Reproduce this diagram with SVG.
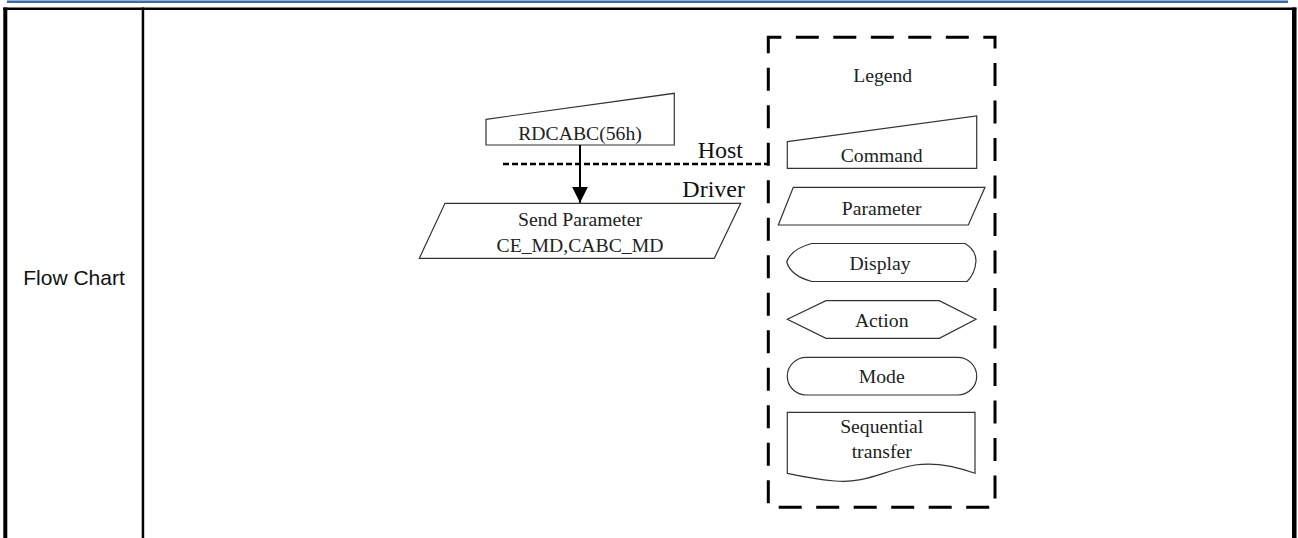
<svg xmlns="http://www.w3.org/2000/svg" width="1298" height="538" viewBox="0 0 1298 538">
<style>
.tbl{fill:#000}
.shape{fill:#fff;stroke:#333;stroke-width:1.2}
.t{font-family:"Liberation Serif","Times New Roman",serif;font-size:19.7px;fill:#222;text-anchor:middle}
.big{font-family:"Liberation Serif","Times New Roman",serif;font-size:24px;fill:#111;text-anchor:end}
.lab{font-family:"Liberation Sans",Arial,sans-serif;font-size:21px;fill:#111;text-anchor:middle}
</style>
<defs>
<marker id="ah" markerUnits="userSpaceOnUse" markerWidth="16" markerHeight="16" refX="16" refY="8" orient="auto">
<path d="M0,0 L16,8 L0,16 Z" fill="#000"/>
</marker>
</defs>
<rect width="1298" height="538" fill="#fff"/>
<g id="header">
<rect x="7" y="0" width="1281" height="1" fill="#8fb0d8"/>
<rect x="7" y="1" width="1281" height="2" fill="#41699b"/>
</g>
<g id="table">
<rect class="tbl" x="3.3" y="7.5" width="1293" height="2.5"/>
<rect class="tbl" x="3.3" y="7.5" width="4" height="531"/>
<rect class="tbl" x="141.7" y="7.5" width="2.5" height="531"/>
<rect class="tbl" x="1292" y="7.5" width="4.5" height="531"/>
<text class="lab" x="74" y="285">Flow Chart</text>
</g>
<g id="legend-box">
<rect x="768.3" y="37.3" width="226.7" height="470" fill="none" stroke="#000" stroke-width="3" stroke-dasharray="23,14.5" stroke-dashoffset="10"/>
<text class="t" x="882.7" y="81.7">Legend</text>
</g>
<g id="node-rdcabc">
<path class="shape" d="M486,119.3 L674.3,93.3 L674.3,145 L486,145 Z"/>
<text class="t" x="580" y="140">RDCABC(56h)</text>
</g>
<g id="node-send">
<path class="shape" d="M445,203.3 L740.7,203.3 L714.3,258.3 L419.3,258.3 Z"/>
<text class="t" x="580" y="226">Send Parameter</text>
<text class="t" x="580" y="251.7">CE_MD,CABC_MD</text>
</g>
<g id="host-driver">
<text class="big" x="743" y="158">Host</text>
<text class="big" x="745" y="196.7">Driver</text>
</g>
<g id="connectors">
<line x1="503" y1="164" x2="768" y2="164" stroke="#000" stroke-width="2.5" stroke-dasharray="6,3"/>
<line x1="580" y1="145" x2="580" y2="202.7" stroke="#000" stroke-width="2" marker-end="url(#ah)"/>
</g>
<g id="legend-command">
<path class="shape" d="M787.3,141.7 L976.7,116 L976.7,168.3 L787.3,168.3 Z"/>
<text class="t" x="881.7" y="161.7">Command</text>
</g>
<g id="legend-parameter">
<path class="shape" d="M793.3,187.3 L985,187.3 L968.3,225 L778.3,225 Z"/>
<text class="t" x="881.7" y="215">Parameter</text>
</g>
<g id="legend-display">
<path class="shape" d="M811.7,243.5 L965,243.5 Q976,250 976,261 Q975,274 967,281.5 L811.7,281.5 Q791,276 786.7,262 Q791,249 811.7,243.5 Z"/>
<text class="t" x="880" y="269.7">Display</text>
</g>
<g id="legend-action">
<path class="shape" d="M787.3,319.3 L826,300.7 L939.3,300.7 L976,319.3 L939.3,338.3 L826,338.3 Z"/>
<text class="t" x="881.7" y="327.3">Action</text>
</g>
<g id="legend-mode">
<rect class="shape" x="787.3" y="357.3" width="189.4" height="37.7" rx="19" ry="18.85"/>
<text class="t" x="881.7" y="383.3">Mode</text>
</g>
<g id="legend-sequential">
<path class="shape" d="M787.3,412.3 L975,412.3 L975,473.3 C955,466 935,462 915,465 C885,470 865,484 835,481 C815,479 800,476 787.3,473.3 Z"/>
<text class="t" x="881.7" y="433.3">Sequential</text>
<text class="t" x="881.7" y="458.3">transfer</text>
</g>
</svg>
